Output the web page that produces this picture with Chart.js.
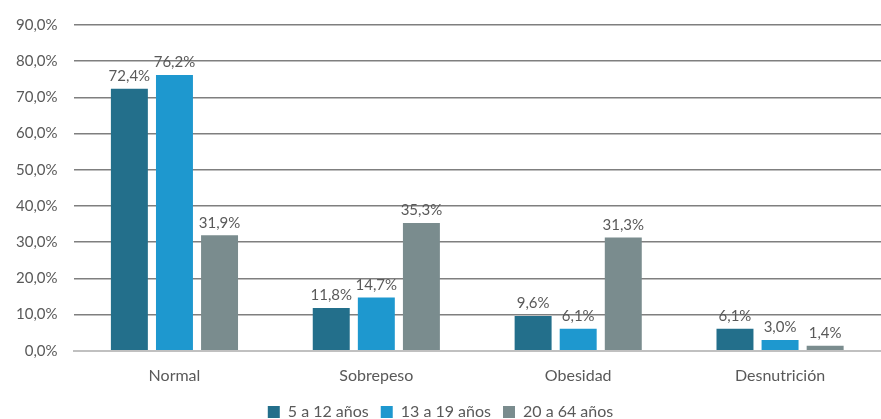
<!DOCTYPE html>
<html>
<head>
<meta charset="utf-8">
<script src="https://cdn.jsdelivr.net/npm/chart.js@4/dist/chart.umd.min.js"></script>
<style>
  html, body { margin: 0; padding: 0; background: #fff; }
  #wrap { width: 881px; height: 419px; }
</style>
</head>
<body>
<div id="wrap"><canvas id="barChart"></canvas></div>
<script>
var categories = ['Normal', 'Sobrepeso', 'Obesidad', 'Desnutrición'];
var seriesNames = ['5 a 12 años', '13 a 19 años', '20 a 64 años'];
var kids = [72.4, 11.8, 9.6, 6.1];
var teens = [76.2, 14.7, 6.1, 3.0];
var adults = [31.9, 35.3, 31.3, 1.4];

var colors = ['#236f8b', '#1e98cf', '#7a8c8e'];
var textColor = '#595959';
var fontFamily = 'Lato, "DejaVu Sans", sans-serif';

function fmt(v, d) {
  return v.toFixed(d).replace('.', ',') + '%';
}

// draw the value above each bar
var valueLabels = {
  id: 'valueLabels',
  afterDatasetsDraw: function(chart) {
    var ctx = chart.ctx;
    ctx.save();
    ctx.font = '15px ' + fontFamily;
    ctx.fillStyle = textColor;
    ctx.textAlign = 'center';
    ctx.textBaseline = 'bottom';
    chart.data.datasets.forEach(function(ds, i) {
      chart.getDatasetMeta(i).data.forEach(function(bar, j) {
        ctx.fillText(fmt(ds.data[j], 1), bar.x, bar.y - 5);
      });
    });
    ctx.restore();
  }
};

var barData = {
  labels: categories,
  datasets: [
    { label: seriesNames[0], data: kids, backgroundColor: colors[0] },
    { label: seriesNames[1], data: teens, backgroundColor: colors[1] },
    { label: seriesNames[2], data: adults, backgroundColor: colors[2] }
  ]
};

var barOptions = {
  responsive: true,
  maintainAspectRatio: false,
  animation: false,
  layout: { padding: { top: 4, right: 0, left: 0, bottom: -11 } },
  datasets: {
    bar: { categoryPercentage: 0.67, barPercentage: 0.82 }
  },
  scales: {
    x: {
      grid: { display: false },
      border: { color: '#c0c0c0', width: 2 },
      ticks: { color: textColor, font: { family: fontFamily, size: 16 }, padding: 7 }
    },
    y: {
      min: 0,
      max: 90,
      ticks: {
        stepSize: 10,
        color: textColor,
        font: { family: fontFamily, size: 15 },
        padding: 16,
        callback: function(v) { return fmt(v, 1); }
      },
      grid: {
        color: function(c) { return c.tick.value === 0 ? '#c0c0c0' : '#7f7f7f'; },
        lineWidth: 1.5,
        drawTicks: false
      },
      border: { display: false }
    }
  },
  plugins: {
    legend: {
      position: 'bottom',
      labels: {
        color: textColor,
        font: { family: fontFamily, size: 16 },
        boxWidth: 12,
        boxHeight: 12,
        padding: 12
      }
    },
    tooltip: { enabled: false }
  }
};

new Chart(document.getElementById('barChart').getContext('2d'), {
  type: 'bar',
  data: barData,
  options: barOptions,
  plugins: [valueLabels]
});
</script>
</body>
</html>
